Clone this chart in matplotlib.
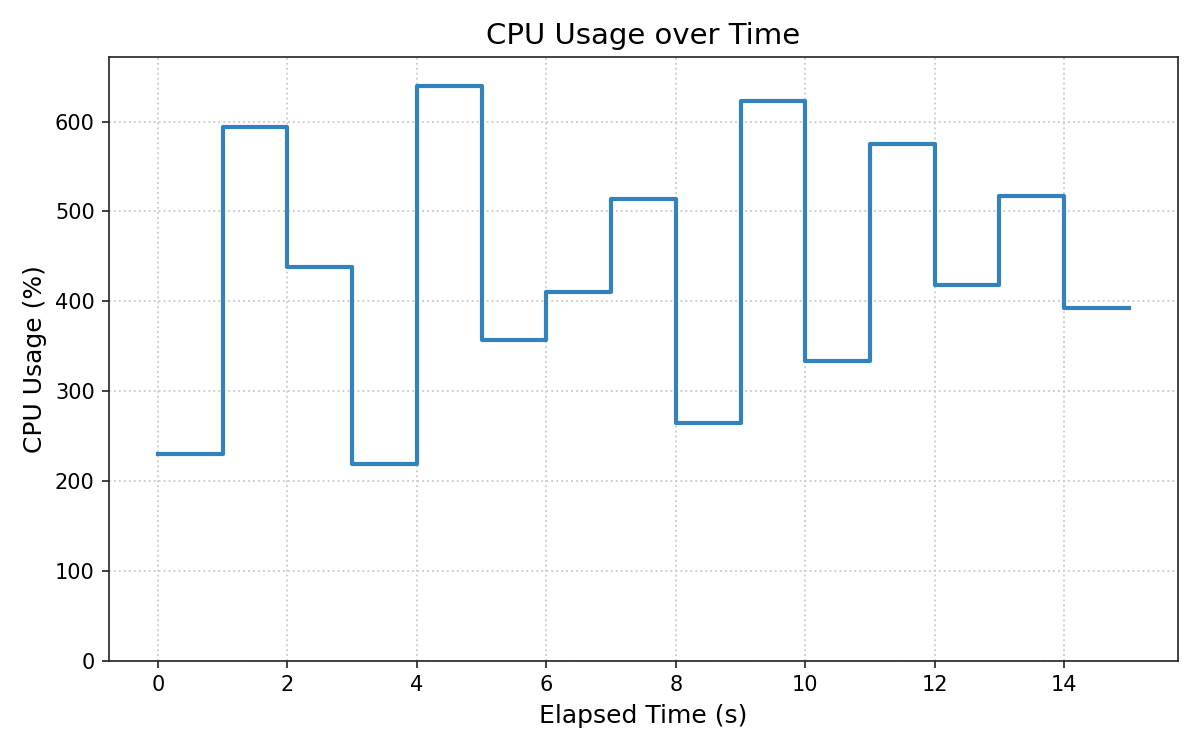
import matplotlib
matplotlib.use("Agg")
import matplotlib.pyplot as plt

elapsed = [0, 1, 2, 3, 4, 5, 6, 7, 8, 9, 10, 11, 12, 13, 14, 15]
cpu_usage = [230, 594, 438, 219, 640, 357, 410, 514, 265, 623, 334, 575, 418, 517, 393, 393]

fig, ax = plt.subplots(figsize=(8, 5), dpi=150)
ax.step(elapsed, cpu_usage, where="post", color="#3182bd", linewidth=2)
ax.set_ylim(0, max(cpu_usage) * 1.05)
ax.set_title("CPU Usage over Time", fontsize=14)
ax.set_xlabel("Elapsed Time (s)", fontsize=12)
ax.set_ylabel("CPU Usage (%)", fontsize=12)
ax.tick_params(labelsize=10, color="#222222")
for s in ax.spines.values():
    s.set_color("#222222")
ax.grid(True, linestyle=":", color="#cccccc", linewidth=0.9)
fig.tight_layout()
fig.savefig("out.png")
